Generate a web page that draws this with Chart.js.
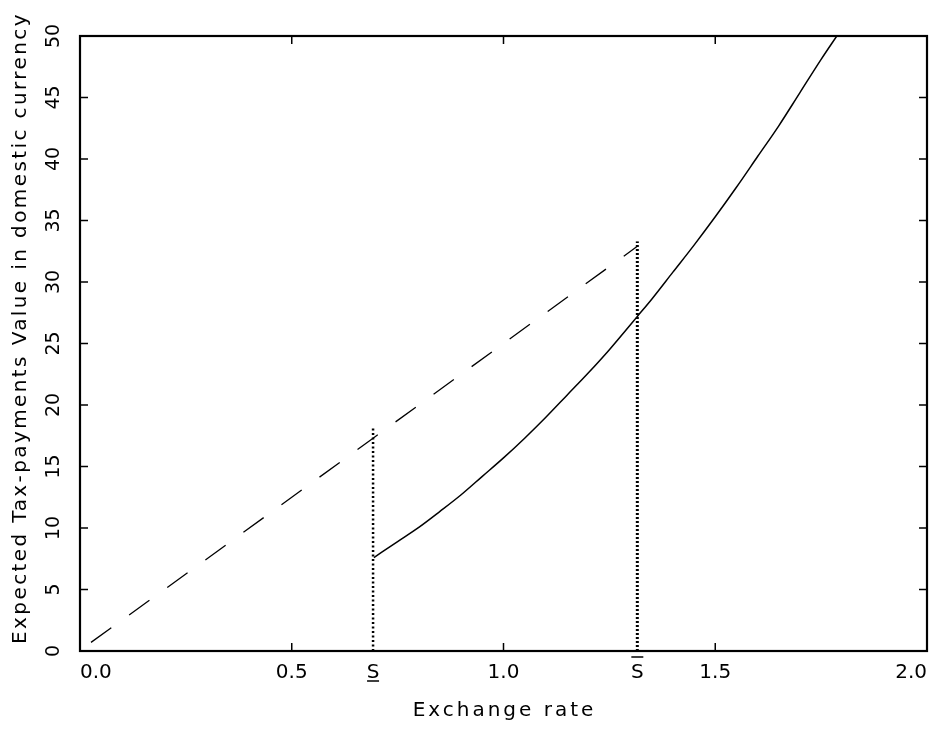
<!DOCTYPE html>
<html>
<head>
<meta charset="utf-8">
<script src="https://cdn.jsdelivr.net/npm/chart.js@4.4.0/dist/chart.umd.min.js"></script>
<style>
  html, body { margin: 0; padding: 0; background: #fff; }
</style>
</head>
<body>
<canvas id="myChart" width="950" height="731"></canvas>
<script>
// values
const xTicks = [0.0, 0.5, 1.0, 1.5, 2.0];
const yTicks = [0, 5, 10, 15, 20, 25, 30, 35, 40, 45, 50];
const sLow = 0.692;
const sHigh = 1.316;
const xTitle = 'Exchange rate';
const yTitle = 'Expected Tax-payments Value in domestic currency';

const dashedX = [0.026, 0.3, 0.692, 1.0, 1.316];
const dashedY = [0.7, 7.5, 17.3, 25.0, 32.9];

const solidX = [0.694, 0.75, 0.8, 0.85, 0.9, 0.95, 1.0, 1.05, 1.1, 1.15, 1.2, 1.25, 1.316,
                1.35, 1.4, 1.45, 1.5, 1.55, 1.6, 1.65, 1.7, 1.75, 1.787];
const solidY = [7.6, 8.9, 10.05, 11.35, 12.7, 14.2, 15.7, 17.3, 19.0, 20.8, 22.6, 24.5, 27.2,
                28.6, 30.8, 33.0, 35.3, 37.7, 40.2, 42.7, 45.4, 48.1, 50.0];

const dotLowY = [0, 18.3];
const dotHighY = [0, 33.3];

const FONT = "'DejaVu Sans', sans-serif";

function pts(xs, ys) {
    return xs.map((x, i) => ({ x: x, y: ys[i] }));
}

// frame, inward ticks, S marks, axis titles
const framePlugin = {
    id: 'frame',
    afterDraw(chart) {
        const ctx = chart.ctx;
        const a = chart.chartArea;
        const xs = chart.scales.x;
        const ys = chart.scales.y;
        ctx.save();
        ctx.strokeStyle = '#000';
        ctx.lineWidth = 1.5;
        xTicks.slice(1, -1).forEach(v => {
            const px = xs.getPixelForValue(v);
            ctx.beginPath();
            ctx.moveTo(px, a.bottom); ctx.lineTo(px, a.bottom - 8);
            ctx.moveTo(px, a.top); ctx.lineTo(px, a.top + 8);
            ctx.stroke();
        });
        yTicks.slice(1, -1).forEach(v => {
            const py = ys.getPixelForValue(v);
            ctx.beginPath();
            ctx.moveTo(a.left, py); ctx.lineTo(a.left + 8, py);
            ctx.moveTo(a.right, py); ctx.lineTo(a.right - 8, py);
            ctx.stroke();
        });
        ctx.lineWidth = 2.2;
        ctx.strokeRect(a.left, a.top, a.right - a.left, a.bottom - a.top);

        // S labels
        ctx.fillStyle = '#000';
        ctx.font = '20px ' + FONT;
        ctx.textAlign = 'center';
        ctx.textBaseline = 'alphabetic';
        const pl = xs.getPixelForValue(sLow);
        const ph = xs.getPixelForValue(sHigh);
        ctx.fillText('S', pl, a.bottom + 27);
        ctx.fillText('S', ph, a.bottom + 27);
        ctx.lineWidth = 1.5;
        ctx.beginPath();
        ctx.moveTo(pl - 6, a.bottom + 30); ctx.lineTo(pl + 6, a.bottom + 30);
        ctx.moveTo(ph - 6, a.bottom + 6); ctx.lineTo(ph + 6, a.bottom + 6);
        ctx.stroke();

        // axis titles
        ctx.font = '20px ' + FONT;
        ctx.letterSpacing = '3px';
        ctx.fillText(xTitle, (a.left + a.right) / 2 + 1, 716);
        ctx.translate(26, 328);
        ctx.rotate(-Math.PI / 2);
        ctx.letterSpacing = '2.4px';
        ctx.fillText(yTitle, 0, 0);
        ctx.restore();
    }
};

const ctx = document.getElementById('myChart').getContext('2d');
new Chart(ctx, {
    type: 'line',
    data: {
        datasets: [
            {
                data: pts(dashedX, dashedY),
                borderColor: '#000',
                borderWidth: 1.3,
                borderDash: [25, 22],
                pointRadius: 0,
                tension: 0
            },
            {
                data: pts(solidX, solidY),
                borderColor: '#000',
                borderWidth: 1.5,
                pointRadius: 0,
                cubicInterpolationMode: 'monotone'
            },
            {
                data: pts([sLow, sLow], dotLowY),
                borderColor: '#000',
                borderWidth: 2.5,
                borderDash: [2, 2.5],
                pointRadius: 0
            },
            {
                data: pts([sHigh, sHigh], dotHighY),
                borderColor: '#000',
                borderWidth: 3,
                borderDash: [2, 2],
                pointRadius: 0
            }
        ]
    },
    options: {
        responsive: false,
        animation: false,
        layout: { padding: { left: 0, right: 23, top: 36, bottom: 0 } },
        plugins: {
            legend: { display: false },
            tooltip: { enabled: false }
        },
        scales: {
            x: {
                type: 'linear',
                min: 0,
                max: 2,
                afterBuildTicks: s => { s.ticks = xTicks.map(v => ({ value: v })); },
                afterFit: s => { s.height = 80; },
                grid: { display: false },
                border: { display: false },
                ticks: {
                    color: '#000',
                    font: { family: FONT, size: 20 },
                    padding: 2,
                    align: 'inner',
                    maxRotation: 0,
                    callback: v => v.toFixed(1)
                },
                title: { display: false }
            },
            y: {
                type: 'linear',
                min: 0,
                max: 50,
                afterBuildTicks: s => { s.ticks = yTicks.map(v => ({ value: v })); },
                afterFit: s => { s.width = 80; },
                grid: { display: false },
                border: { display: false },
                ticks: {
                    color: '#000',
                    font: { family: FONT, size: 19 },
                    padding: 6,
                    crossAlign: 'center',
                    minRotation: 90,
                    maxRotation: 90
                },
                title: { display: false }
            }
        }
    },
    plugins: [framePlugin]
});
</script>
</body>
</html>
